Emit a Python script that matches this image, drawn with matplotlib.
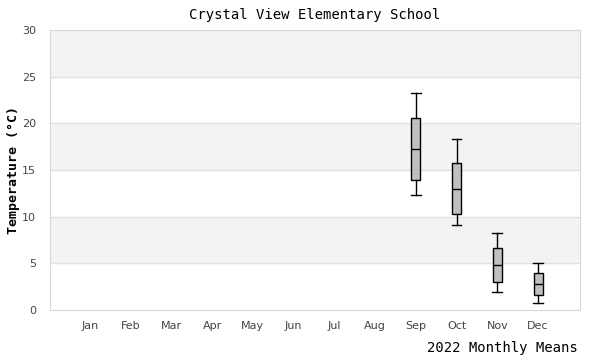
import matplotlib.pyplot as plt

months = ["Jan", "Feb", "Mar", "Apr", "May", "Jun",
          "Jul", "Aug", "Sep", "Oct", "Nov", "Dec"]

# box stats for months with data (Sep..Dec)
box_months = [9, 10, 11, 12]
whis_lo = [12.3, 9.1, 1.9, 0.7]
q1 = [13.9, 10.25, 3.0, 1.57]
med = [17.2, 13.0, 4.8, 2.75]
q3 = [20.6, 15.8, 6.6, 3.93]
whis_hi = [23.2, 18.3, 8.2, 5.0]

fig = plt.figure(figsize=(6, 3.6), dpi=100)
ax = fig.add_axes([50 / 600, 50 / 360, 530 / 600, 280 / 360])

# alternating bands
for lo in range(0, 30, 5):
    if (lo // 5) % 2 == 1:
        ax.axhspan(lo, lo + 5, color="#f3f3f3", zorder=0, lw=0)
for y in range(5, 30, 5):
    ax.axhline(y, color="#e0e0e0", lw=1, zorder=0.5)

stats = []
for i in range(len(box_months)):
    stats.append({"whislo": whis_lo[i], "q1": q1[i], "med": med[i],
                  "q3": q3[i], "whishi": whis_hi[i], "fliers": []})

ax.bxp(stats, positions=box_months, widths=0.22, patch_artist=True,
       showfliers=False,
       boxprops=dict(facecolor="#c0c0c0", edgecolor="black", lw=1),
       medianprops=dict(color="black", lw=1),
       whiskerprops=dict(color="black", lw=1),
       capprops=dict(color="black", lw=1),
       capwidths=0.24)

ax.set_xlim(0.02, 13.03)
ax.set_ylim(0, 30)
ax.set_xticks(range(1, 13))
ax.set_xticklabels(months)
ax.set_yticks(range(0, 31, 5))
ax.tick_params(length=0, labelsize=8, labelcolor="#444444", pad=8)
ax.tick_params(axis="y", pad=10)

for s in ax.spines.values():
    s.set_color("#d8d8d8")

ax.set_title("Crystal View Elementary School", family="DejaVu Sans Mono",
             fontsize=10, pad=8)
ax.set_ylabel("Temperature (°C)", family="DejaVu Sans Mono", fontsize=9.5,
              fontweight="bold")
ax.yaxis.set_label_coords(-30 / 530, 0.5)
fig.text(578 / 600, 1 - 348 / 360, "2022 Monthly Means", ha="right",
         va="center", family="DejaVu Sans Mono", fontsize=10)

plt.savefig("out.png", dpi=100)
